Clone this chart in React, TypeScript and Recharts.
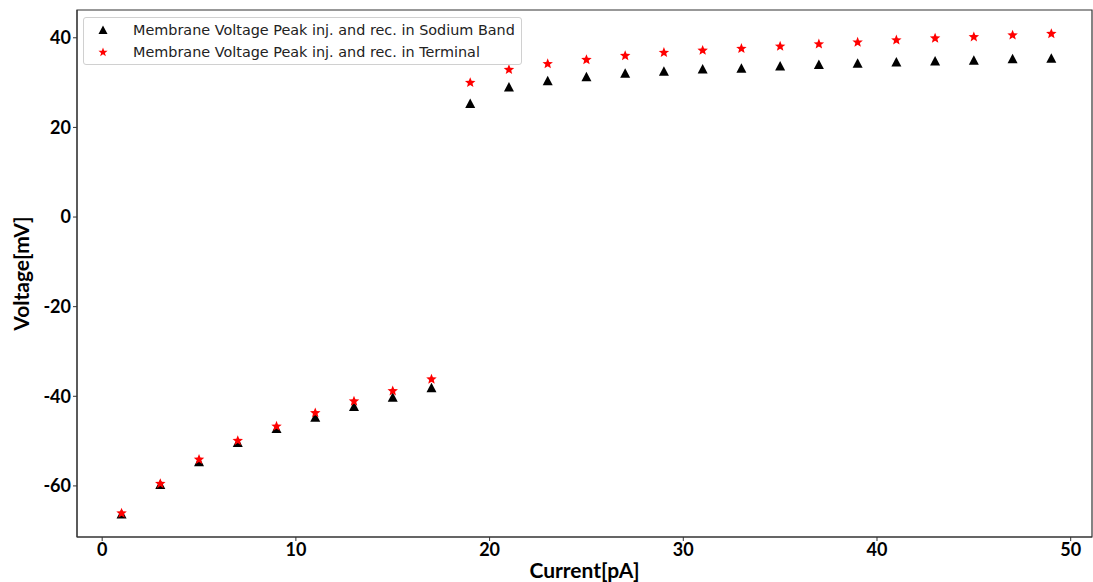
import React from 'react';
import { ScatterChart, Scatter, XAxis, YAxis, ReferenceArea } from 'recharts';

const currents = [1, 3, 5, 7, 9, 11, 13, 15, 17, 19, 21, 23, 25, 27, 29, 31, 33, 35, 37, 39, 41, 43, 45, 47, 49];
const sodiumBand = [
  -66.4, -59.8, -54.7, -50.4, -47.3, -44.8, -42.4, -40.3, -38.2,
  25.2, 28.9, 30.3, 31.2, 32.0, 32.4, 32.9, 33.1, 33.6, 33.9, 34.2, 34.5, 34.7, 34.9, 35.2, 35.3,
];
const terminal = [
  -66.0, -59.4, -54.0, -49.8, -46.6, -43.6, -41.0, -38.7, -36.1,
  30.1, 33.0, 34.3, 35.2, 36.1, 36.8, 37.3, 37.7, 38.2, 38.7, 39.1, 39.6, 40.0, 40.3, 40.7, 41.0,
];
const xTicks = [0, 10, 20, 30, 40, 50];
const yTicks = [-60, -40, -20, 0, 20, 40];
const xDomain = [-1.3, 51.1];
const yDomain = [-71.4, 46.2];

const sodiumData = currents.map((x, i) => ({ x, y: sodiumBand[i] }));
const terminalData = currents.map((x, i) => ({ x, y: terminal[i] }));

const tickStyle = { fontFamily: 'Lato', fontWeight: 700, fontSize: 18, fill: '#000' };

// matplotlib-like marker shapes, placed at the point the scale hands us
function starPoints(cx: number, cy: number, outer: number, inner: number) {
  const pts: string[] = [];
  for (let k = 0; k < 10; k++) {
    const r = k % 2 === 0 ? outer : inner;
    const a = -Math.PI / 2 + (k * Math.PI) / 5;
    pts.push(`${cx + r * Math.cos(a)},${cy + r * Math.sin(a)}`);
  }
  return pts.join(' ');
}

const TriangleMark = (props: any) => {
  const { cx, cy } = props;
  return <polygon points={`${cx},${cy - 5.5} ${cx + 5},${cy + 4} ${cx - 5},${cy + 4}`} fill="#000" />;
};

const StarMark = (props: any) => {
  const { cx, cy } = props;
  return <polygon points={starPoints(cx, cy + 0.5, 5.5, 2.4)} fill="#ff0000" />;
};

function LegendBox() {
  return (
    <div
      style={{
        position: 'absolute',
        left: 83,
        top: 17,
        width: 439,
        height: 48,
        border: '1px solid #d0d0d0',
        borderRadius: 3,
        background: 'rgba(255,255,255,0.8)',
        fontFamily: 'DejaVu Sans',
        fontSize: 14.4,
        color: '#222',
        boxSizing: 'border-box',
      }}
    >
      <div style={{ position: 'absolute', left: 12, top: 2, display: 'flex', alignItems: 'center', height: 20 }}>
        <svg width={14} height={14}>
          <polygon points="7,2.5 11.5,11 2.5,11" fill="#000" />
        </svg>
        <span style={{ marginLeft: 23 }}>Membrane Voltage Peak inj. and rec. in Sodium Band</span>
      </div>
      <div style={{ position: 'absolute', left: 12, top: 24, display: 'flex', alignItems: 'center', height: 20 }}>
        <svg width={14} height={14}>
          <polygon points={starPoints(7, 7.3, 4.8, 2)} fill="#ff0000" />
        </svg>
        <span style={{ marginLeft: 23 }}>Membrane Voltage Peak inj. and rec. in Terminal</span>
      </div>
    </div>
  );
}

export default function App() {
  return (
    <div style={{ position: 'absolute', left: 0, top: 0, width: 1093, height: 582, background: '#fff' }}>
      <ScatterChart width={1093} height={582} margin={{ top: 10, right: 1, bottom: 0, left: 0 }}>
        <XAxis
          type="number"
          dataKey="x"
          domain={xDomain}
          ticks={xTicks}
          allowDataOverflow
          height={45}
          tickSize={4}
          tick={tickStyle}
          stroke="#333"
          label={{
            value: 'Current[pA]',
            position: 'insideBottom',
            offset: 4,
            style: { fontFamily: 'Lato', fontWeight: 700, fontSize: 21, fill: '#000' },
          }}
        />
        <YAxis
          type="number"
          dataKey="y"
          domain={yDomain}
          ticks={yTicks}
          allowDataOverflow
          width={77}
          tickSize={4}
          tick={tickStyle}
          stroke="#333"
          label={{
            value: 'Voltage[mV]',
            angle: -90,
            position: 'insideLeft',
            offset: 22,
            style: { fontFamily: 'Lato', fontWeight: 700, fontSize: 21, fill: '#000', textAnchor: 'middle' },
          }}
        />
        <ReferenceArea
          x1={xDomain[0]}
          x2={xDomain[1]}
          y1={yDomain[0]}
          y2={yDomain[1]}
          fill="none"
          stroke="#333"
          strokeWidth={1.2}
          ifOverflow="visible"
        />
        <Scatter
          name="Membrane Voltage Peak inj. and rec. in Sodium Band"
          data={sodiumData}
          fill="#000"
          shape={TriangleMark}
          isAnimationActive={false}
        />
        <Scatter
          name="Membrane Voltage Peak inj. and rec. in Terminal"
          data={terminalData}
          fill="#ff0000"
          shape={StarMark}
          isAnimationActive={false}
        />
      </ScatterChart>
      <LegendBox />
    </div>
  );
}
